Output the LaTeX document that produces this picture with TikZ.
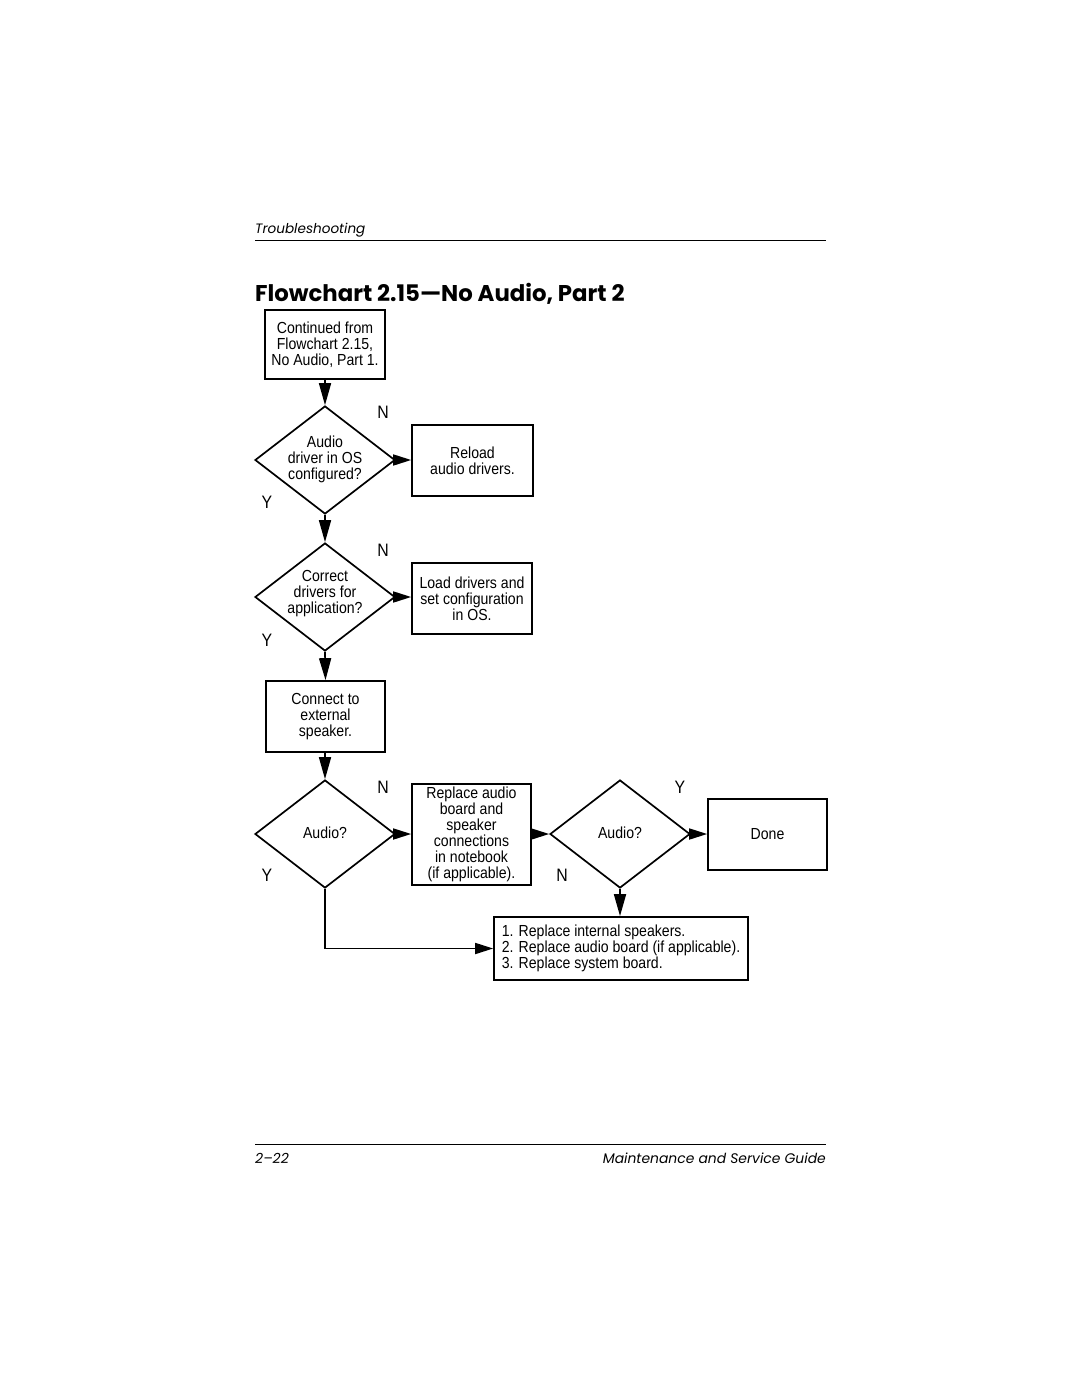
\documentclass[tikz,border=0pt]{standalone}
\usepackage{fontspec}
\setmainfont{Liberation Sans}
\newfontfamily\cond[FakeStretch=0.88]{Liberation Sans}
\newfontfamily\titlefont{Poppins}
\usetikzlibrary{arrows.meta,shapes.geometric}
\tikzset{
  box/.style={draw, line width=1.7pt, inner sep=0pt, align=center, font=\cond\fontsize{16}{16}\selectfont},
  dia/.style={draw, diamond, line width=1.7pt, inner sep=0pt, minimum width=140pt, minimum height=108pt},
  dtext/.style={align=center, inner sep=0pt, font=\cond\fontsize{16}{16}\selectfont},
  yn/.style={inner sep=0pt, font=\cond\fontsize{18}{18}\selectfont},
  varr/.style={line width=1.7pt, -{Triangle[length=22pt,width=12pt]}},
  harr/.style={line width=1.7pt, -{Triangle[length=18pt,width=11pt]}},
  rule/.style={line width=0.9pt}
}
\begin{document}
\begin{tikzpicture}[x=1pt,y=-1pt]
\useasboundingbox[fill=white] (0,0) rectangle (1080,1397);
% header
\node[anchor=base west, inner sep=0pt, font=\titlefont\itshape\fontsize{13.6}{14}\selectfont] (hdr) at (255,233) {Troubleshooting};
\coordinate (hl) at (255,240);
\coordinate (hr) at (826,240);
\draw[rule] (hl) -- (hr);
\node[anchor=base west, inner sep=0pt, font=\titlefont\bfseries\fontsize{22.8}{23}\selectfont] (ttl) at (255,301) {Flowchart 2.15—No Audio, Part 2};
% footer
\coordinate (fl) at (255,1144);
\coordinate (fr) at (826,1144);
\draw[rule] (fl) -- (fr);
\node[anchor=base west, inner sep=0pt, font=\titlefont\itshape\fontsize{14}{14}\selectfont] (pg) at (255,1163) {2–22};
\node[anchor=base east, inner sep=0pt, font=\titlefont\itshape\fontsize{13.9}{14}\selectfont] (gd) at (826,1163) {Maintenance and Service Guide};
% nodes
\node[box, minimum width=120pt, minimum height=69pt] (b1) at (325,344.5) {Continued from\\Flowchart 2.15,\\No Audio, Part 1.};
\node[dia] (d1) at (325,460) {};
\node[dtext] (d1t) at (325,459) {Audio\\driver in OS\\configured?};
\node[box, minimum width=121pt, minimum height=71pt] (r1) at (472.5,460.5) {Reload\\audio drivers.};
\node[dia] (d2) at (325,597) {};
\node[dtext] (d2t) at (325,594) {Correct\\drivers for\\application?};
\node[box, minimum width=120pt, minimum height=71pt] (r2) at (472,598.5) {Load drivers and\\set configuration\\in OS.};
\node[box, minimum width=119pt, minimum height=71pt] (b2) at (325.5,716.5) {Connect to\\external\\speaker.};
\node[dia] (d3) at (325,834) {};
\node[dtext] (d3t) at (325,833) {Audio?};
\node[box, minimum width=119pt, minimum height=101pt] (r3) at (471.5,834.5) {Replace audio\\board and\\speaker\\connections\\in notebook\\(if applicable).};
\node[dia] (d4) at (620,834) {};
\node[dtext] (d4t) at (620,833) {Audio?};
\node[box, minimum width=119pt, minimum height=71pt] (done) at (767.5,834.5) {Done};
\node[box, minimum width=254pt, minimum height=63pt, align=left] (fin) at (621,948.5) {1. Replace internal speakers.\\2. Replace audio board (if applicable).\\3. Replace system board.};
% labels
\node[yn] (n1) at (383,412) {N};
\node[yn] (y1) at (267,502) {Y};
\node[yn] (n2) at (383,550) {N};
\node[yn] (y2) at (267,640) {Y};
\node[yn] (n3) at (383,787) {N};
\node[yn] (y3) at (267,875) {Y};
\node[yn] (y4) at (680,787) {Y};
\node[yn] (n4) at (562,875) {N};
% connectors
\draw[varr] (b1.south) -- (d1.north);
\draw[harr] (d1.east) -- (d1.east -| r1.west);
\draw[varr] (d1.south) -- (d2.north);
\draw[harr] (d2.east) -- (d2.east -| r2.west);
\draw[varr] (d2.south) -- (b2.south |- b2.north);
\draw[varr] (b2.south -| d3.north) -- (d3.north);
\draw[harr] (d3.east) -- (d3.east -| r3.west);
\draw[harr] (r3.east |- d4.west) -- (d4.west);
\draw[harr] (d4.east) -- (d4.east -| done.west);
\draw[varr] (d4.south) -- (d4.south |- fin.north);
\draw[harr] (d3.south) |- (fin.west);
\end{tikzpicture}
\end{document}
